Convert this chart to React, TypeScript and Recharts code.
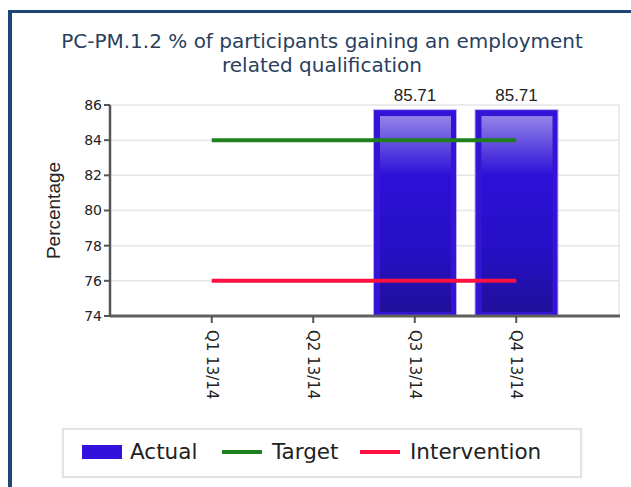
import React from "react";
import {
  ComposedChart,
  Bar,
  Line,
  XAxis,
  YAxis,
  CartesianGrid,
  LabelList,
} from "recharts";

// quarters and series
const quarters = ["Q1 13/14", "Q2 13/14", "Q3 13/14", "Q4 13/14"];
const actual = [null, null, 85.71, 85.71];
const target = [84, 84, 84, 84];
const intervention = [76, 76, 76, 76];
const yTicks = [74, 76, 78, 80, 82, 84, 86];

const data = quarters.map((q, i) => ({
  name: q,
  actual: actual[i],
  target: target[i],
  intervention: intervention[i],
}));

const TITLE_COLOR = "#2a3f5e";

const BarShape = (props: any) => {
  const { x, y, width, height } = props;
  if (!height || height <= 0) return null;
  return (
    <g>
      <rect x={x - 1} y={y - 1} width={width + 2} height={height + 1} fill="#b9b0f0" />
      <rect x={x} y={y} width={width} height={height} fill="#3514d8" />
      <rect
        x={x + 6}
        y={y + 6}
        width={width - 11}
        height={height - 10}
        fill="url(#barGrad)"
      />
    </g>
  );
};

const XTick = (props: any) => {
  const { x, y, payload } = props;
  return (
    <g>
      <line x1={x} y1={y - 8} x2={x} y2={y - 1} stroke="#555" strokeWidth={2} />
      <text
        x={x}
        y={y + 6}
        transform={`rotate(90, ${x}, ${y + 6})`}
        dy="0.35em"
        textAnchor="start"
        fontFamily="DejaVu Sans"
        fontSize={15}
        fill="#222"
      >
        {payload.value}
      </text>
    </g>
  );
};

const YLabel = (props: any) => {
  const { viewBox } = props;
  const cx = viewBox.x + 53;
  const cy = viewBox.y + viewBox.height / 2;
  return (
    <text
      x={cx}
      y={cy}
      transform={`rotate(-90, ${cx}, ${cy})`}
      textAnchor="middle"
      dominantBaseline="central"
      fontFamily="Liberation Sans"
      fontSize={19}
      fill="#222"
    >
      Percentage
    </text>
  );
};

const legendItems = [
  { name: "Actual", kind: "box", color: "#3311dd", left: 82, textLeft: 130 },
  { name: "Target", kind: "line", color: "#1f7f1f", left: 222, textLeft: 272 },
  { name: "Intervention", kind: "line", color: "#ff1040", left: 360, textLeft: 410 },
];

export default function App() {
  return (
    <div
      style={{
        position: "absolute",
        left: 0,
        top: 0,
        width: 631,
        height: 487,
        background: "#fff",
        overflow: "hidden",
      }}
    >
      {/* frame: only top and left edges show in the crop */}
      <div
        style={{
          position: "absolute",
          left: 8,
          top: 10,
          width: 640,
          height: 500,
          borderTop: "3px solid #1d4677",
          borderLeft: "4px solid #1d4677",
        }}
      />
      <div
        style={{
          position: "absolute",
          left: 0,
          top: 29,
          width: 644,
          textAlign: "center",
          fontFamily: "DejaVu Sans",
          fontSize: 20,
          lineHeight: "24px",
          color: TITLE_COLOR,
        }}
      >
        PC-PM.1.2 % of participants gaining an employment
        <br />
        related qualification
      </div>
      <div style={{ position: "absolute", left: 0, top: 0 }}>
        <ComposedChart
          width={631}
          height={487}
          data={data}
          margin={{ top: 105, right: 11, bottom: 71, left: 0 }}
        >
          <defs>
            <linearGradient id="barGrad" x1="0" y1="0" x2="0" y2="1">
              <stop offset="0%" stopColor="#9384e8" />
              <stop offset="30%" stopColor="#2d10d8" />
              <stop offset="70%" stopColor="#2610c4" />
              <stop offset="100%" stopColor="#20109a" />
            </linearGradient>
          </defs>
          <CartesianGrid
            stroke="#e6e6e6"
            strokeWidth={1.5}
            verticalCoordinatesGenerator={({ xAxis, offset }: any) => {
              const pts = (xAxis?.ticks || []).map((t: any) => t.coordinate);
              return [...pts, offset.left + offset.width - 1];
            }}
          />
          <XAxis
            dataKey="name"
            height={100}
            padding={{ left: 51, right: 53 }}
            axisLine={{ stroke: "#606060", strokeWidth: 3 }}
            tickLine={false}
            tick={<XTick />}
            interval={0}
          />
          <YAxis
            width={110}
            domain={[74, 86]}
            ticks={yTicks}
            allowDataOverflow
            axisLine={{ stroke: "#555", strokeWidth: 2.5 }}
            tickLine={{ stroke: "#555", strokeWidth: 2 }}
            tickSize={6}
            tick={{ fontFamily: "DejaVu Sans", fontSize: 14, fill: "#222" }}
            label={<YLabel />}
          />
          <Bar
            dataKey="actual"
            barSize={82}
            shape={<BarShape />}
            isAnimationActive={false}
          >
            <LabelList
              dataKey="actual"
              position="top"
              offset={9}
              fontFamily="Liberation Sans"
              fontSize={17}
              fill="#222"
            />
          </Bar>
          <Line
            dataKey="target"
            stroke="#1f7f1f"
            strokeWidth={4}
            dot={false}
            activeDot={false}
            isAnimationActive={false}
          />
          <Line
            dataKey="intervention"
            stroke="#ff1040"
            strokeWidth={4}
            dot={false}
            activeDot={false}
            isAnimationActive={false}
          />
        </ComposedChart>
      </div>
      {/* legend */}
      <div
        style={{
          position: "absolute",
          left: 62,
          top: 428,
          width: 516,
          height: 46,
          border: "2px solid #e4e4e4",
          boxShadow: "0 0 2px #eee",
        }}
      />
      {legendItems.map((it) => (
        <React.Fragment key={it.name}>
          <div
            style={{
              position: "absolute",
              left: it.left,
              top: it.kind === "box" ? 445 : 450,
              width: 40,
              height: it.kind === "box" ? 14 : 4,
              background: it.color,
            }}
          />
          <div
            style={{
              position: "absolute",
              left: it.textLeft,
              top: 439,
              fontFamily: "DejaVu Sans",
              fontSize: 21.5,
              lineHeight: "26px",
              color: "#222",
            }}
          >
            {it.name}
          </div>
        </React.Fragment>
      ))}
    </div>
  );
}
